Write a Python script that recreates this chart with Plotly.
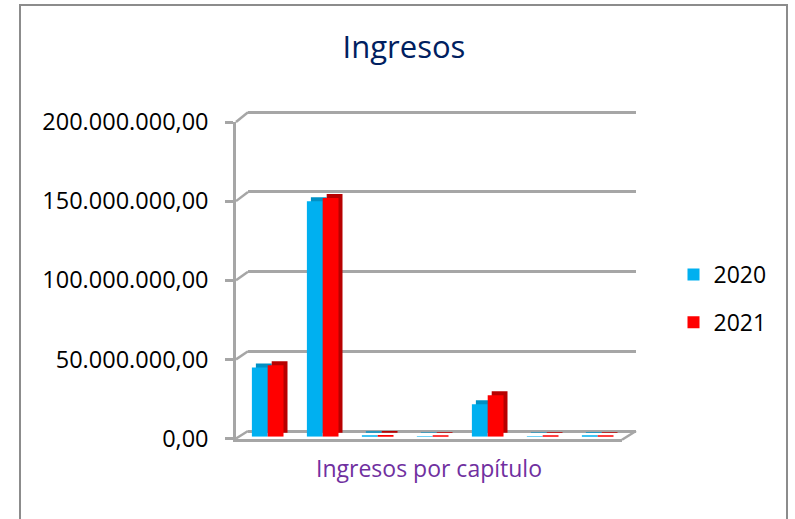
import plotly.graph_objects as go

# ---------------- data ----------------
categories = ["Capítulo 1", "Capítulo 2", "Capítulo 3", "Capítulo 4",
              "Capítulo 5", "Capítulo 6", "Capítulo 7"]
ingresos_2020 = [43.8e6, 148.8e6, 0.9e6, 0.3e6, 20.5e6, 0.3e6, 0.4e6]
ingresos_2021 = [45.2e6, 150.9e6, 1.1e6, 0.4e6, 26.2e6, 0.4e6, 0.5e6]
series_names = ["2020", "2021"]
y_ticks = [0, 50e6, 100e6, 150e6, 200e6]
chart_title = "Ingresos"
x_title = "Ingresos por capítulo"

# ---------------- style / geometry ----------------
W, H = 795, 519
FONT = "Open Sans"
GRID = "#A6A6A6"
LW = 2.5
COL_FRONT = ["#00B0F0", "#FF0000"]
COL_DARK = ["#0090C4", "#B80000"]
YMAX = y_ticks[-1]
DEPTH = 4.0  # pixel depth of the bar prisms

BACK = dict(x0=248, x1=636, y0=431.0, ytop=112.3)      # back wall (gridlines)
FRONT = dict(x0=236, x1=622, y0=438.5, ytop=122.0)     # front axes
BARF = dict(x0=240.2, x1=625.2, y0=436.7, ytop=120.2)  # bar front faces
BARB = dict(x0=BARF["x0"] + DEPTH, x1=BARF["x1"] + DEPTH,
            y0=BARF["y0"] - DEPTH, ytop=BARF["ytop"] - DEPTH)  # back faces


def xd(g):
    return [g["x0"] / W, g["x1"] / W]


def yd(g, rlo, rhi):
    scale = (g["y0"] - g["ytop"]) / YMAX
    p_lo = g["y0"] - rlo * scale
    p_hi = g["y0"] - rhi * scale
    return [1 - p_lo / H, 1 - p_hi / H]


def ypix(g, v):
    return g["y0"] - v * (g["y0"] - g["ytop"]) / YMAX


# value offset so the dark back faces reach down to the front floor level
back_base = -DEPTH * YMAX / (BARB["y0"] - BARB["ytop"])

series = [ingresos_2020, ingresos_2021]

fig = go.Figure()

# subplot 1: back wall (invisible carrier trace)
fig.add_trace(go.Scatter(x=categories, y=ingresos_2020, mode="markers",
                         marker=dict(opacity=0), hoverinfo="skip",
                         showlegend=False, xaxis="x", yaxis="y"))

# subplot 2: dark back faces of the bars
for name, vals, col in zip(series_names, series, COL_DARK):
    fig.add_trace(go.Bar(x=categories, y=[v - back_base for v in vals],
                         base=back_base, name=name, marker_color=col,
                         marker_line_width=0, showlegend=False,
                         hoverinfo="skip", xaxis="x2", yaxis="y2"))

# subplot 3: front faces of the bars
for name, vals, col in zip(series_names, series, COL_FRONT):
    fig.add_trace(go.Bar(x=categories, y=vals, name=name, marker_color=col,
                         marker_line_width=0, legendgroup=name,
                         xaxis="x3", yaxis="y3"))

# subplot 4: front axes (invisible carrier trace)
fig.add_trace(go.Scatter(x=categories, y=ingresos_2021, mode="markers",
                         marker=dict(opacity=0), hoverinfo="skip",
                         showlegend=False, xaxis="x4", yaxis="y4"))

cat_range = [-0.5, len(categories) - 0.5]
hidden = dict(visible=False, type="category", range=cat_range,
              automargin=False)

# decorative 3-D connectors (wall/floor edges) and outer frame
shapes = [dict(type="rect", xref="paper", yref="paper",
               x0=20 / W, x1=787 / W, y0=-0.05, y1=1 - 5 / H,
               line=dict(color="#8C8C8C", width=2), layer="below")]
for v in y_ticks:
    shapes.append(dict(type="line", xref="paper", yref="paper",
                       x0=FRONT["x0"] / W, y0=1 - ypix(FRONT, v) / H,
                       x1=BACK["x0"] / W, y1=1 - ypix(BACK, v) / H,
                       line=dict(color=GRID, width=LW), layer="below"))
shapes.append(dict(type="line", xref="paper", yref="paper",
                   x0=FRONT["x1"] / W, y0=1 - (FRONT["y0"] + 1.2) / H,
                   x1=BACK["x1"] / W, y1=1 - BACK["y0"] / H,
                   line=dict(color=GRID, width=LW), layer="below"))

fig.update_layout(
    template="none",
    width=W, height=H, autosize=False,
    margin=dict(l=0, r=0, t=0, b=0, pad=0),
    paper_bgcolor="white", plot_bgcolor="rgba(0,0,0,0)",
    separators=",.",
    font=dict(family=FONT, size=23, color="#000000"),
    barmode="group", bargap=0.425, bargroupgap=0,
    title=dict(text=chart_title, x=404 / W, xanchor="center", xref="paper",
               y=1 - 47 / H, yanchor="middle", yref="paper",
               font=dict(family=FONT, size=31, color="#002060")),
    showlegend=True,
    legend=dict(x=673.5 / W, xanchor="left", y=1 - 253 / H, yanchor="top",
                font=dict(family=FONT, size=23, color="#000000"),
                tracegroupgap=15, bgcolor="rgba(0,0,0,0)", borderwidth=0),
    xaxis=dict(domain=xd(BACK), type="category", range=cat_range,
               showgrid=False, showline=False, zeroline=False,
               showticklabels=False, ticks="", anchor="y", automargin=False),
    yaxis=dict(domain=yd(BACK, -5e6, 205e6), range=[-5e6, 205e6],
               tickvals=y_ticks, showgrid=True, gridcolor=GRID, gridwidth=LW,
               showticklabels=False, ticks="", zeroline=False,
               showline=False, anchor="x", automargin=False),
    xaxis2=dict(domain=xd(BARB), anchor="y2", **hidden),
    yaxis2=dict(domain=yd(BARB, 0, YMAX), range=[0, YMAX], visible=False,
                anchor="x2", automargin=False),
    xaxis3=dict(domain=xd(BARF), anchor="y3", **hidden),
    yaxis3=dict(domain=yd(BARF, 0, YMAX), range=[0, YMAX], visible=False,
                anchor="x3", automargin=False),
    xaxis4=dict(domain=xd(FRONT), type="category", range=cat_range,
                anchor="y4", showgrid=False, zeroline=False,
                showline=True, linecolor=GRID, linewidth=LW,
                showticklabels=False, ticks="", automargin=False,
                title=dict(text=x_title, standoff=21,
                           font=dict(family=FONT, size=23, color="#7030A0"))),
    yaxis4=dict(domain=yd(FRONT, 0, YMAX), range=[0, YMAX], anchor="x4",
                tickvals=y_ticks, tickformat=",.2f",
                showgrid=False, zeroline=False, automargin=False,
                showline=True, linecolor=GRID, linewidth=LW,
                ticks="outside", ticklen=8, tickwidth=LW, tickcolor=GRID,
                ticklabelstandoff=12,
                tickfont=dict(family=FONT, size=23.5, color="#000000")),
    shapes=shapes,
)

fig.write_html("out.html",
               config={"displayModeBar": False},
               post_script="document.body.style.margin='0';"
                           "document.body.style.overflow='hidden';")
